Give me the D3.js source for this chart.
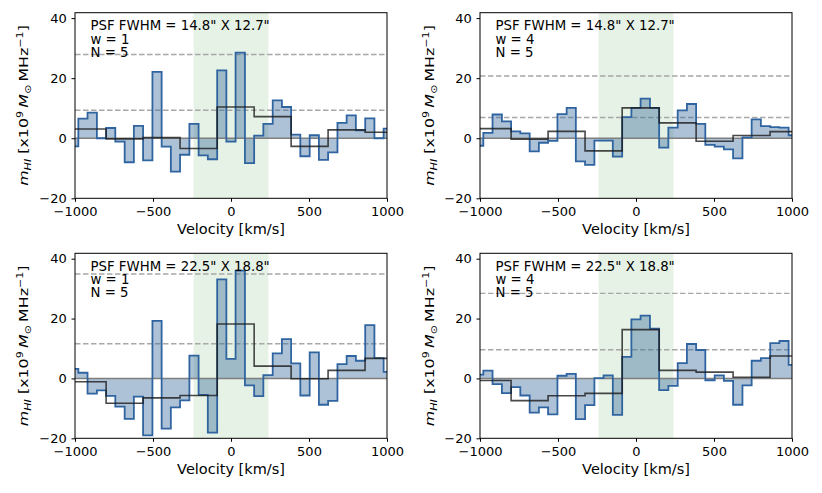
<!DOCTYPE html>
<html lang="en">
<head>
<meta charset="UTF-8">
<title>HI stacking spectra</title>
<script src="https://cdn.jsdelivr.net/npm/d3@7"></script>
<style>
  body { margin: 0; background: #fff; }
  text { font-family: "DejaVu Sans", sans-serif; fill: #000; }
</style>
</head>
<body>
<script>
// channel centres [km/s] and the 4-channel binned centres
var vel = [-1008, -949, -890, -830, -771, -712, -652, -593, -534, -474, -415, -356,
           -297, -237, -178, -119, -59, 0, 59, 119, 178, 237, 297, 356, 415, 474,
           534, 593, 652, 712, 771, 830, 890, 949, 1008];
var chanW = 59.3;
var binVel = [-919, -682, -445, -208, 30, 267, 504, 741, 978];
var binW = 237.2;

// spectra (x10^9 Msun/MHz), one per panel
var spec1 = [-2.7, 6.5, 8.5, 0, 3.4, -1.1, -8.0, 4.1, -7.4, 22.1, -2.8, -11.1, -5.5, 4.8, -5.7, -7.0,
             22.6, -1.1, 28.5, -8.3, 0.9, 4.8, 12.6, 10.4, 1.2, -6.0, 1.0, -7.2, -4.7, 5.1, 7.6, 2.6, 6.6, 0, 3.2];
var spec2 = [-2.5, 1.8, 7.9, 5.6, 2.3, 1.6, -4.4, -1.5, -0.9, 8.0, 10.1, -7.7, -8.9, -0.8, -0.8, -6.1,
             7.0, 10.1, 13.2, 10.1, -3.1, 3.5, 9.3, 11.4, 4.8, -2.2, -2.8, -3.7, -6.7, 0.3, 6.3, 4.0, 3.7, 3.5, 1.0];
var spec3 = [3.2, 1.9, -5.1, -4.0, -5.8, -9.4, -13.5, -6.1, -19.0, 19.2, -16.8, -9.7, -7.3, 7.6, -5.5, -18.1,
             33.1, 6.5, 36.0, -2.3, -5.9, 1.1, 8.4, 13.1, 5.0, -5.7, 8.7, -8.8, -7.5, 4.8, 7.5, 5.9, 17.8, 6.8, 2.2];
var spec4 = [1.3, 2.6, -1.9, -4.9, -2.9, -5.7, -11.4, -9.7, -12.0, 0.9, 1.5, -13.6, -8.9, 0.1, 1.0, -12.2,
             7.2, 19.7, 21.0, 16.6, -3.9, -2.5, 5.1, 11.5, 9.5, -0.6, 1.0, -0.8, -8.8, -2.3, 5.9, 6.8, 11.8, 12.5, 4.5];

var bin1 = [3.1, -0.2, 0.2, -3.4, 10.4, 7.2, -2.7, 2.8, 2.0];
var bin2 = [3.2, -0.3, 2.3, -4.2, 10.1, 5.1, -1.0, 0.9, 2.2];
var bin3 = [-1.1, -8.3, -6.5, -5.7, 18.2, 4.1, -0.1, 2.7, 6.7];
var bin4 = [-0.7, -7.4, -5.8, -5.0, 16.3, 2.7, 2.1, 0.4, 7.5];

// dashed reference levels
var lev1 = [27.9, 9.3];
var lev2 = [20.7, 6.9];
var lev3 = [34.9, 11.6];
var lev4 = [28.4, 9.6];

var notes1 = ['PSF FWHM = 14.8" X 12.7"', "w = 1", "N = 5"];
var notes2 = ['PSF FWHM = 14.8" X 12.7"', "w = 4", "N = 5"];
var notes3 = ['PSF FWHM = 22.5" X 18.8"', "w = 1", "N = 5"];
var notes4 = ['PSF FWHM = 22.5" X 18.8"', "w = 4", "N = 5"];

var band = [-240, 240];
var xTicks = [-1000, -500, 0, 500, 1000];
var yTicks = [-20, 0, 20, 40];

var width = 822, height = 493;
var svg = d3.select("body").append("svg")
    .attr("width", width).attr("height", height);

var panels = [
  {l: 75,  r: 387, t: 12.7,  b: 198.3, spec: spec1, bin: bin1, lev: lev1, notes: notes1, lx: 27.5},
  {l: 480, r: 792, t: 12.7,  b: 198.3, spec: spec2, bin: bin2, lev: lev2, notes: notes2, lx: 434},
  {l: 75,  r: 387, t: 253.3, b: 438.3, spec: spec3, bin: bin3, lev: lev3, notes: notes3, lx: 27.5},
  {l: 480, r: 792, t: 253.3, b: 438.3, spec: spec4, bin: bin4, lev: lev4, notes: notes4, lx: 434}
];

var nfs = 13.3, lfs = 14.5, tfs = 13, yfs = 13;

panels.forEach(function(p, pi) {
  var x = d3.scaleLinear().domain([-1000, 1000]).range([p.l, p.r]);
  var y = d3.scaleLinear().domain([-20, 41.8]).range([p.b, p.t]);

  var cid = "clip" + pi;
  svg.append("clipPath").attr("id", cid).append("rect")
      .attr("x", p.l).attr("y", p.t).attr("width", p.r - p.l).attr("height", p.b - p.t);
  var g = svg.append("g").attr("clip-path", "url(#" + cid + ")");

  // green velocity window
  g.append("rect")
      .attr("x", x(band[0])).attr("y", p.t)
      .attr("width", x(band[1]) - x(band[0])).attr("height", p.b - p.t)
      .attr("fill", "green").attr("fill-opacity", 0.1);

  // dashed levels
  g.selectAll(".lev").data(p.lev).enter().append("line")
      .attr("x1", p.l).attr("x2", p.r)
      .attr("y1", function(d) { return y(d); }).attr("y2", function(d) { return y(d); })
      .attr("stroke", "#a8a8a8").attr("stroke-width", 1.4)
      .attr("stroke-dasharray", "5.5,2.5");

  // step points: each channel from its left edge, plus closing right edge
  var pts = p.spec.map(function(v, i) { return [vel[i] - chanW / 2, v]; });
  pts.push([vel[vel.length - 1] + chanW / 2, p.spec[p.spec.length - 1]]);

  var area = d3.area().curve(d3.curveStepAfter)
      .x(function(d) { return x(d[0]); })
      .y0(y(0))
      .y1(function(d) { return y(d[1]); });
  g.append("path").datum(pts)
      .attr("d", area)
      .attr("fill", "#336699").attr("fill-opacity", 0.4);

  // zero line
  g.append("line")
      .attr("x1", p.l).attr("x2", p.r).attr("y1", y(0)).attr("y2", y(0))
      .attr("stroke", "#7f7f7f").attr("stroke-width", 1.4);

  var line = d3.line().curve(d3.curveStepAfter)
      .x(function(d) { return x(d[0]); })
      .y(function(d) { return y(d[1]); });
  g.append("path").datum(pts)
      .attr("d", line)
      .attr("fill", "none").attr("stroke", "#2f64a0").attr("stroke-width", 1.8);

  // 4-channel binned spectrum
  var bpts = p.bin.map(function(v, i) { return [binVel[i] - binW / 2, v]; });
  bpts.push([binVel[binVel.length - 1] + binW / 2, p.bin[p.bin.length - 1]]);
  g.append("path").datum(bpts)
      .attr("d", line)
      .attr("fill", "none").attr("stroke", "#1a1a1a").attr("stroke-opacity", 0.8)
      .attr("stroke-width", 1.6);

  // axes
  svg.append("g")
      .attr("transform", "translate(0," + p.b + ")")
      .call(d3.axisBottom(x).tickValues(xTicks).tickSize(3.5).tickPadding(5).tickFormat(d3.format("d")))
      .call(function(a) {
        a.select(".domain").remove();
        a.selectAll("text").attr("font-size", tfs).attr("font-family", "DejaVu Sans");
      });
  svg.append("g")
      .attr("transform", "translate(" + p.l + ",0)")
      .call(d3.axisLeft(y).tickValues(yTicks).tickSize(3.5).tickPadding(4.8).tickFormat(d3.format("d")))
      .call(function(a) {
        a.select(".domain").remove();
        a.selectAll("text").attr("font-size", tfs).attr("font-family", "DejaVu Sans");
      });

  svg.append("rect")
      .attr("x", p.l).attr("y", p.t).attr("width", p.r - p.l).attr("height", p.b - p.t)
      .attr("fill", "none").attr("stroke", "#000").attr("stroke-width", 1);

  // annotations
  svg.selectAll(".note" + pi).data(p.notes).enter().append("text")
      .attr("x", p.l + 15.5)
      .attr("y", function(d, i) { return p.t + 17.5 + i * 13.3; })
      .attr("font-size", nfs)
      .text(function(d) { return d; });

  // x label
  svg.append("text")
      .attr("x", (p.l + p.r) / 2).attr("y", p.b + 36)
      .attr("text-anchor", "middle").attr("font-size", lfs)
      .text("Velocity [km/s]");

  // y label (mathtext-like), stretched along its length
  var yl = svg.append("text")
      .attr("transform", "translate(" + p.lx + "," + ((p.t + p.b) / 2) + ") rotate(-90) scale(1.22,1)")
      .attr("text-anchor", "middle").attr("font-size", yfs);
  yl.append("tspan").attr("font-style", "italic").text("m");
  yl.append("tspan").attr("font-style", "italic").attr("font-size", yfs * 0.7).attr("dy", 3).text("HI");
  yl.append("tspan").attr("dy", -3).text(" [x10");
  yl.append("tspan").attr("font-size", yfs * 0.7).attr("dy", -5).text("9");
  yl.append("tspan").attr("dy", 5).attr("font-style", "italic").text("\u2009M");
  yl.append("tspan").attr("font-size", yfs * 0.7).attr("dy", 3).text("\u2299");
  yl.append("tspan").attr("dy", -3).text("\u2009MHz");
  yl.append("tspan").attr("font-size", yfs * 0.7).attr("dy", -5).text("\u22121");
  yl.append("tspan").attr("dy", 5).text("]");
});
</script>
</body>
</html>
